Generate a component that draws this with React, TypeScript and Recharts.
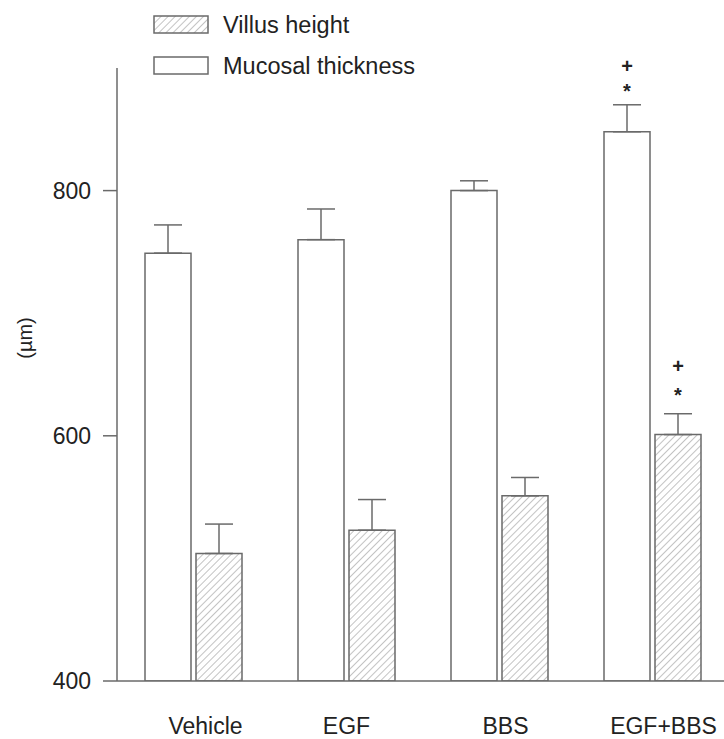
import React from 'react';
import { BarChart, Bar, XAxis, YAxis, ErrorBar, LabelList } from 'recharts';

const groups = ['Vehicle', 'EGF', 'BBS', 'EGF+BBS'];
const mucosal = [749, 760, 800, 848];
const mucosalErr = [23, 25, 8, 22];
const villus = [504, 523, 551, 601];
const villusErr = [24, 25, 15, 17];
const mucosalSig = ['', '', '', '+*'];
const villusSig = ['', '', '', '+*'];
const yTicks = [400, 600, 800];

const AXIS_MIN = 400;
const FONT = '"Liberation Sans", Arial, Helvetica, sans-serif';
const STROKE = '#6a6a6a';
// the category labels in the figure sit a little right of the bar pairs
const labelShift = [12, 0, 6, 11];

const data = groups.map((g, i) => ({
  group: g,
  mucosal: mucosal[i],
  mucosalErr: [0, mucosalErr[i]],
  villus: villus[i],
  villusErr: [0, villusErr[i]],
  mucosalSig: mucosalSig[i],
  villusSig: villusSig[i],
}));

// puts the "+" and "*" marks above the error bar of a bar
const sigLabel = (vals: number[], errs: number[], starGap: number, plusGap: number) => (props: any) => {
  const { x, y, width, height, index, value } = props;
  if (!value) return null;
  const ppu = height / (vals[index] - AXIS_MIN);
  const top = y - errs[index] * ppu;
  const cx = x + width / 2;
  return (
    <g fontFamily={FONT} fontWeight="bold" fill="#222" textAnchor="middle">
      <text x={cx} y={top - plusGap} fontSize={20} dominantBaseline="central">+</text>
      <text x={cx} y={top - starGap} fontSize={20} dominantBaseline="central">*</text>
    </g>
  );
};

const XTick = (props: any) => {
  const { x, y, payload, index } = props;
  return (
    <text x={x + (labelShift[index] || 0)} y={y} dy={16} textAnchor="middle"
      fontSize={23} fontFamily={FONT} fill="#222">{payload.value}</text>
  );
};

const Legend = () => (
  <svg width={440} height={90} style={{ position: 'absolute', left: 0, top: 0 }}>
    <defs>
      <pattern id="hatchLegend" patternUnits="userSpaceOnUse" width={5} height={5} patternTransform="rotate(45)">
        <line x1={0} y1={0} x2={0} y2={5} stroke="#9a9a9a" strokeWidth={1.2} />
      </pattern>
    </defs>
    <rect x={154} y={16} width={54} height={17} fill="url(#hatchLegend)" stroke={STROKE} strokeWidth={1.5} />
    <text x={223} y={25} fontSize={23.5} fontFamily={FONT} fill="#222" dominantBaseline="central">Villus height</text>
    <rect x={154} y={57} width={54} height={17} fill="#fff" stroke={STROKE} strokeWidth={1.5} />
    <text x={223} y={66} fontSize={23.5} fontFamily={FONT} fill="#222" dominantBaseline="central">Mucosal thickness</text>
  </svg>
);

const YLabel = () => (
  <text x={25} y={338} transform="rotate(-90, 25, 338)" textAnchor="middle" dominantBaseline="central"
    fontSize={20} fontFamily={FONT} fill="#222">(µm)</text>
);

export default function App() {
  return (
    <div style={{ position: 'absolute', left: 0, top: 0, width: 724, height: 739, overflow: 'hidden', background: '#fff' }}>
      <BarChart
        width={730}
        height={739}
        data={data}
        margin={{ top: 68, right: 1, bottom: 0, left: 0 }}
        barGap={5}
        barSize={46}
      >
        <defs>
          <pattern id="hatch" patternUnits="userSpaceOnUse" width={5} height={5} patternTransform="rotate(45)">
            <line x1={0} y1={0} x2={0} y2={5} stroke="#9a9a9a" strokeWidth={1.2} />
          </pattern>
        </defs>
        <XAxis
          dataKey="group"
          height={58}
          tickLine={false}
          tickSize={0}
          tickMargin={37}
          axisLine={{ stroke: STROKE, strokeWidth: 1.5 }}
          tick={<XTick />}
        />
        <YAxis
          width={117}
          domain={[400, 900]}
          ticks={yTicks}
          allowDataOverflow
          tickSize={14}
          tickMargin={12}
          axisLine={{ stroke: STROKE, strokeWidth: 1.5 }}
          tickLine={{ stroke: STROKE, strokeWidth: 1.5 }}
          tick={{ fontSize: 23, fontFamily: FONT, fill: '#222' }}
          label={<YLabel />}
        />
        <Bar dataKey="mucosal" fill="#fff" stroke={STROKE} strokeWidth={1.5} isAnimationActive={false}>
          <ErrorBar dataKey="mucosalErr" width={14} stroke={STROKE} strokeWidth={1.5} direction="y" />
          <LabelList dataKey="mucosalSig" content={sigLabel(mucosal, mucosalErr, 14, 39)} />
        </Bar>
        <Bar dataKey="villus" fill="url(#hatch)" stroke={STROKE} strokeWidth={1.5} isAnimationActive={false}>
          <ErrorBar dataKey="villusErr" width={14} stroke={STROKE} strokeWidth={1.5} direction="y" />
          <LabelList dataKey="villusSig" content={sigLabel(villus, villusErr, 19, 48)} />
        </Bar>
      </BarChart>
      <Legend />
    </div>
  );
}
